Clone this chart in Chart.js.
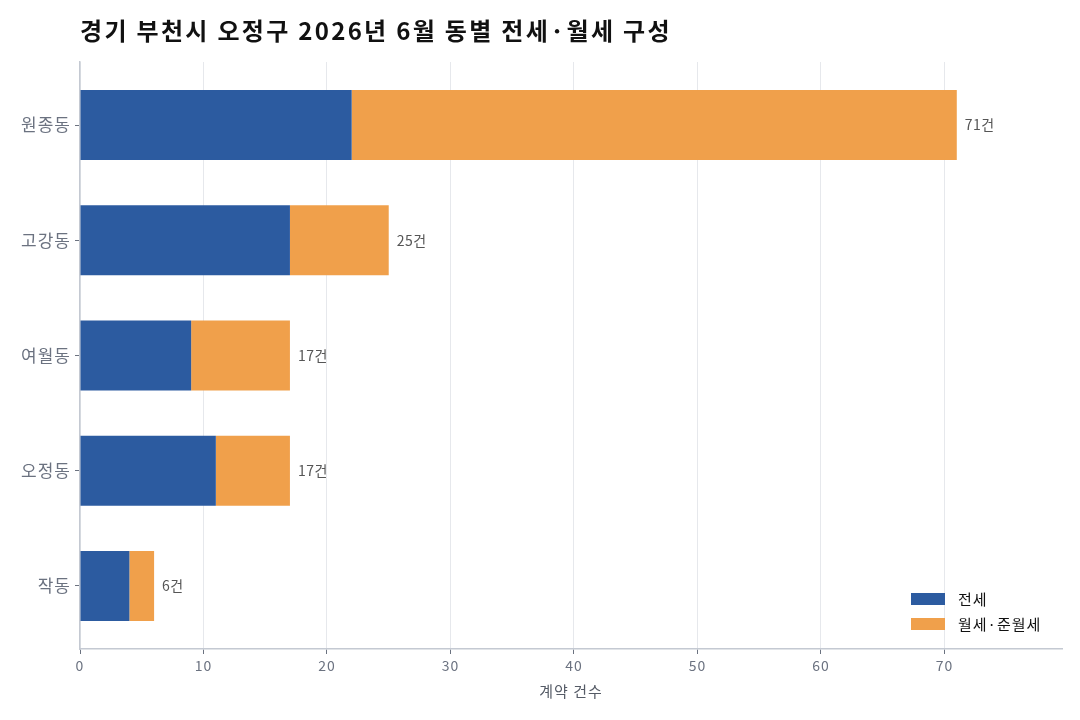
<!DOCTYPE html>
<html><head><meta charset="utf-8">
<script src="https://cdn.jsdelivr.net/npm/chart.js@4.4.0/dist/chart.umd.min.js"></script>
<style>html,body{margin:0;padding:0;background:#fff;}#wrap{width:1080px;height:720px;}</style>
</head><body><div id="wrap"><canvas id="c" width="1080" height="720"></canvas></div>
<script>
const titleText = '경기 부천시 오정구 2026년 6월 동별 전세·월세 구성';
const categories = ['원종동', '고강동', '여월동', '오정동', '작동'];
const jeonse = [22, 17, 9, 11, 4];
const wolse = [49, 8, 8, 6, 2];
const seriesNames = ['전세', '월세·준월세'];
const xTicks = [0, 10, 20, 30, 40, 50, 60, 70];
const xTitle = '계약 건수';
const unit = '건';

const FONT = "'Noto Sans CJK KR', 'Noto Sans', sans-serif";
const BLUE = '#2C5BA0', ORANGE = '#F0A04B';

const spacing = {
  id: 'spacing',
  beforeDraw(chart) { chart.ctx.save(); chart.ctx.letterSpacing = '1px'; },
  afterDraw(chart) { chart.ctx.restore(); }
};

const overlay = {
  id: 'overlay',
  afterDraw(chart) {
    const ctx = chart.ctx, a = chart.chartArea;
    ctx.save();
    // title
    ctx.fillStyle = '#111';
    ctx.letterSpacing = '2.3px';
    ctx.font = "bold 24px " + FONT;
    ctx.textAlign = 'left'; ctx.textBaseline = 'middle';
    ctx.fillText(titleText, a.left, 31);
    // totals
    ctx.letterSpacing = '0.5px';
    const xs = chart.scales.x;
    const m = chart.getDatasetMeta(1);
    ctx.font = "14px " + FONT;
    ctx.fillStyle = '#555';
    categories.forEach((c, i) => {
      const tot = jeonse[i] + wolse[i];
      const px = xs.getPixelForValue(tot);
      ctx.fillText(tot + unit, px + 8, m.data[i].y);
    });
    // legend
    const cols = [BLUE, ORANGE];
    ctx.letterSpacing = '1px';
    ctx.font = "15px " + FONT;
    seriesNames.forEach((n, i) => {
      const y = 599 + i * 25;
      ctx.fillStyle = cols[i];
      ctx.fillRect(911, y - 6, 34, 12);
      ctx.fillStyle = '#111';
      ctx.fillText(n, 958, y);
    });
    ctx.restore();
  }
};

new Chart(document.getElementById('c'), {
  type: 'bar',
  data: {
    labels: categories,
    datasets: [
      { label: seriesNames[0], data: jeonse, backgroundColor: BLUE, barPercentage: 0.607, categoryPercentage: 1 },
      { label: seriesNames[1], data: wolse, backgroundColor: ORANGE, barPercentage: 0.607, categoryPercentage: 1 }
    ]
  },
  options: {
    indexAxis: 'y',
    responsive: false,
    animation: false,
    devicePixelRatio: 1,
    layout: { padding: { top: 62, right: 18, left: 0, bottom: 20 } },
    plugins: { legend: { display: false }, title: { display: false }, tooltip: { enabled: false } },
    scales: {
      x: {
        stacked: true, min: 0, max: 79.52,
        afterBuildTicks(s) { s.ticks = xTicks.map(v => ({ value: v })); },
        afterFit(s) { s.height = 51; },
        grid: { color: '#e6e8ec', drawTicks: true, tickLength: 5, tickColor: '#6b7280' },
        border: { color: '#c4c9d2', width: 1.5 },
        ticks: { color: '#6b7280', font: { size: 14, family: FONT }, padding: 3 },
        title: { display: true, text: xTitle, color: '#555b66', font: { size: 15, family: FONT }, padding: { top: 0, bottom: 0 } }
      },
      y: {
        stacked: true,
        afterBuildTicks(s) { s._startValue = -0.547; s._valueRange = 5.094; },
        afterFit(s) { s.width = 80; },
        grid: { display: true, offset: false, drawOnChartArea: false, drawTicks: true, tickLength: 5, tickColor: '#6b7280' },
        border: { color: '#c4c9d2', width: 1.5 },
        ticks: { color: '#6b7280', font: { size: 17, family: FONT }, padding: 4 }
      }
    }
  },
  plugins: [spacing, overlay]
});
</script></body></html>
